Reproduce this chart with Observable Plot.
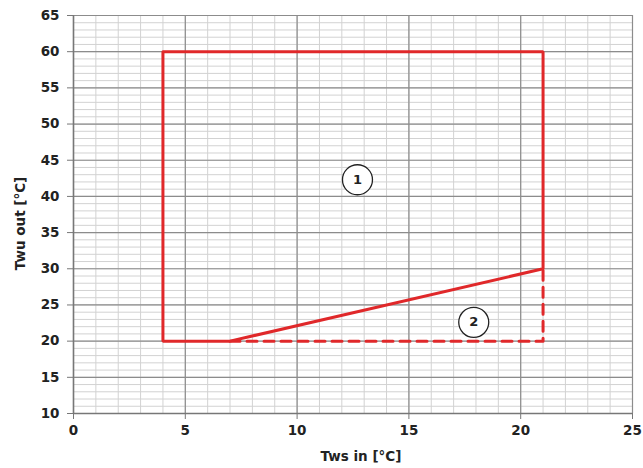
<!DOCTYPE html>
<html>
<head>
<meta charset="utf-8">
<script src="https://cdn.jsdelivr.net/npm/d3@7"></script>
<script src="https://cdn.jsdelivr.net/npm/@observablehq/plot@0.6"></script>
<style>
  html, body { margin: 0; padding: 0; background: #fff; }
</style>
</head>
<body>
<div id="chart"></div>
<script>
const xTicks = [0, 5, 10, 15, 20, 25];
const yTicks = [10, 15, 20, 25, 30, 35, 40, 45, 50, 55, 60, 65];
const xMinor = d3.range(0, 26, 1);
const yMinor = d3.range(10, 66, 1);
const xTitle = "Tws in [°C]";
const yTitle = "Twu out [°C]";

// Region 1 boundary (solid red)
const boundaryX = [4, 21, 21, 7, 4, 4];
const boundaryY = [60, 60, 30, 20, 20, 60];
// Region 2 extra boundary (dashed red)
const dashedX = [7, 21, 21];
const dashedY = [20, 20, 30];
// Region labels
const regionLabels = ["1", "2"];
const regionX = [12.7, 17.9];
const regionY = [42.3, 22.6];

const boundary = boundaryX.map((x, i) => ({x, y: boundaryY[i]}));
const dashed = dashedX.map((x, i) => ({x, y: dashedY[i]}));
const regions = regionLabels.map((t, i) => ({t, x: regionX[i], y: regionY[i]}));

const chart = Plot.plot({
  width: 643,
  height: 468,
  marginLeft: 73,
  marginRight: 11,
  marginTop: 15,
  marginBottom: 55,
  style: {fontFamily: "DejaVu Sans", fontSize: "13.5px", fontWeight: "bold", color: "#222", background: "#fff"},
  x: {domain: [0, 25]},
  y: {domain: [10, 65]},
  marks: [
    Plot.ruleX(xMinor, {stroke: "#d2d2d2", strokeWidth: 1}),
    Plot.ruleY(yMinor, {stroke: "#d2d2d2", strokeWidth: 1}),
    Plot.ruleX(xTicks, {stroke: "#8c8c8c", strokeWidth: 1.2}),
    Plot.ruleY(yTicks, {stroke: "#8c8c8c", strokeWidth: 1.2}),
    Plot.ruleX([0], {stroke: "#777", strokeWidth: 1.5}),
    Plot.ruleY([10], {stroke: "#777", strokeWidth: 1.5}),
    Plot.axisX(xTicks, {tickSize: 6, tickPadding: 6, stroke: "#777", label: null}),
    Plot.axisY(yTicks, {tickSize: 6, tickPadding: 8, stroke: "#777", label: null}),
    Plot.line(dashed, {x: "x", y: "y", stroke: "#e0282a", strokeWidth: 3, strokeDasharray: "10,7"}),
    Plot.line(boundary, {x: "x", y: "y", stroke: "#e0282a", strokeWidth: 3, strokeLinejoin: "miter"}),
    Plot.dot(regions, {x: "x", y: "y", r: 15, stroke: "#222", strokeWidth: 1.3, fill: "#fff"}),
    Plot.text(regions, {x: "x", y: "y", text: "t", fontSize: 13, fontWeight: "bold", fill: "#222"}),
    Plot.text([xTitle], {frameAnchor: "bottom", textAnchor: "middle", lineAnchor: "middle", dx: 8, dy: 43, fontSize: 13.5, fontWeight: "bold", fill: "#222"}),
    Plot.text([yTitle], {frameAnchor: "left", textAnchor: "middle", lineAnchor: "middle", dx: -53, dy: 9, rotate: -90, fontSize: 13.5, fontWeight: "bold", fill: "#222"})
  ]
});
document.getElementById("chart").appendChild(chart);
</script>
</body>
</html>
